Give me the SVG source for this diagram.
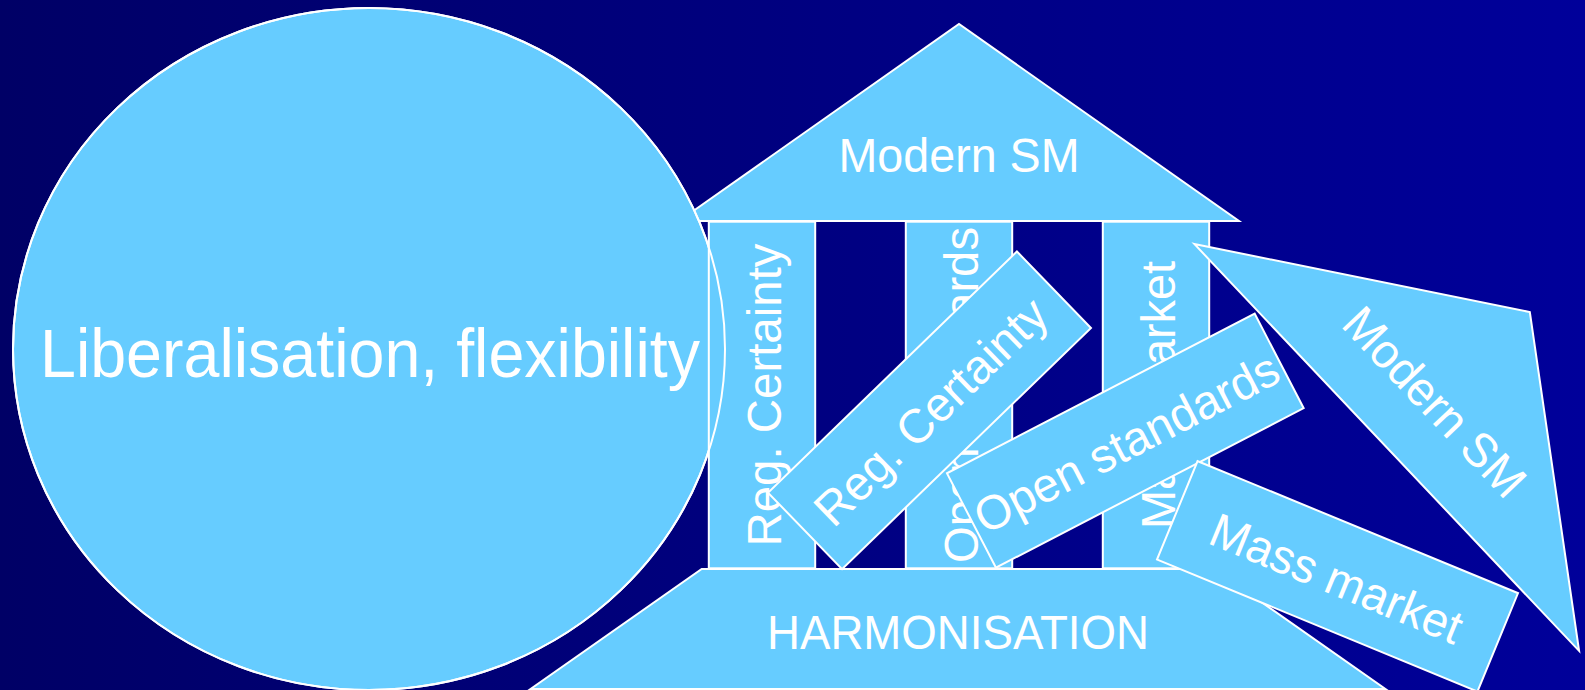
<svg xmlns="http://www.w3.org/2000/svg" xmlns:xlink="http://www.w3.org/1999/xlink" width="1585" height="690" viewBox="0 0 1585 690">
<defs>
<linearGradient id="bg" x1="0" y1="0" x2="1" y2="0">
<stop offset="0" stop-color="#000066"/>
<stop offset="1" stop-color="#00009A"/>
</linearGradient>
<style>
.shape{fill:#66CCFF;stroke:#FFFFFF;stroke-width:2;stroke-linejoin:miter}
.outline{fill:none;stroke:#FFFFFF;stroke-width:2}
.lbl{font-family:"Liberation Sans",Arial,sans-serif;font-size:48px;fill:#FFFFFF;text-anchor:middle}
.big{font-size:69px}
</style>
<polygon id="roofShape" points="-280,0 0,-197 280,0"/>
<rect id="pillarShape" x="-53.2" y="-173.3" width="106.4" height="346.6"/>
<ellipse id="circleShape" cx="369" cy="349" rx="356" ry="341"/>
</defs>
<rect x="0" y="0" width="1585" height="690" fill="url(#bg)"/>

<g id="roof" transform="translate(959,221)">
<use xlink:href="#roofShape" class="shape"/>
<text class="lbl" x="0" y="-49.5" textLength="241" lengthAdjust="spacingAndGlyphs">Modern SM</text>
</g>

<g id="circle">
<use xlink:href="#circleShape" class="shape"/>
<text class="lbl big" x="370" y="377" textLength="660" lengthAdjust="spacingAndGlyphs">Liberalisation, flexibility</text>
</g>

<g id="pillar-reg" transform="translate(762,395)">
<use xlink:href="#pillarShape" class="shape"/>
<text class="lbl" transform="rotate(-90)" x="0" y="18.5" textLength="303" lengthAdjust="spacingAndGlyphs">Reg. Certainty</text>
</g>
<g id="pillar-open" transform="translate(959,395)">
<use xlink:href="#pillarShape" class="shape"/>
<text class="lbl" transform="rotate(-90)" x="0" y="19" textLength="336" lengthAdjust="spacingAndGlyphs">Open standards</text>
</g>
<g id="pillar-mass" transform="translate(1156,395)">
<use xlink:href="#pillarShape" class="shape"/>
<text class="lbl" transform="rotate(-90)" x="0" y="19" textLength="268" lengthAdjust="spacingAndGlyphs">Mass market</text>
</g>

<g id="circle-edge">
<use xlink:href="#circleShape" class="outline"/>
</g>

<g id="base">
<polygon class="shape" points="701.7,569 1214.3,569 1385.4,689 530.6,689"/>
<text class="lbl" x="958" y="649" textLength="382" lengthAdjust="spacingAndGlyphs">HARMONISATION</text>
</g>

<g id="tilted-reg" transform="translate(929.5,410.3) rotate(45.9)">
<use xlink:href="#pillarShape" class="shape"/>
<text class="lbl" transform="rotate(-90)" x="0" y="18.5" textLength="303" lengthAdjust="spacingAndGlyphs">Reg. Certainty</text>
</g>

<g id="tilted-open" transform="translate(1125.3,440.7) rotate(62.6)">
<use xlink:href="#pillarShape" class="shape"/>
<text class="lbl" transform="rotate(-90)" x="0" y="19" textLength="336" lengthAdjust="spacingAndGlyphs">Open standards</text>
</g>

<g id="tilted-roof" transform="translate(1386.7,447.4) rotate(46.6)">
<use xlink:href="#roofShape" class="shape"/>
<text class="lbl" x="0" y="-49.5" textLength="241" lengthAdjust="spacingAndGlyphs">Modern SM</text>
</g>

<g id="tilted-mass" transform="translate(1337.5,576.3) rotate(112.4)">
<use xlink:href="#pillarShape" class="shape"/>
<text class="lbl" transform="rotate(-90)" x="0" y="19" textLength="268" lengthAdjust="spacingAndGlyphs">Mass market</text>
</g>

<g id="connectors"/>
</svg>
